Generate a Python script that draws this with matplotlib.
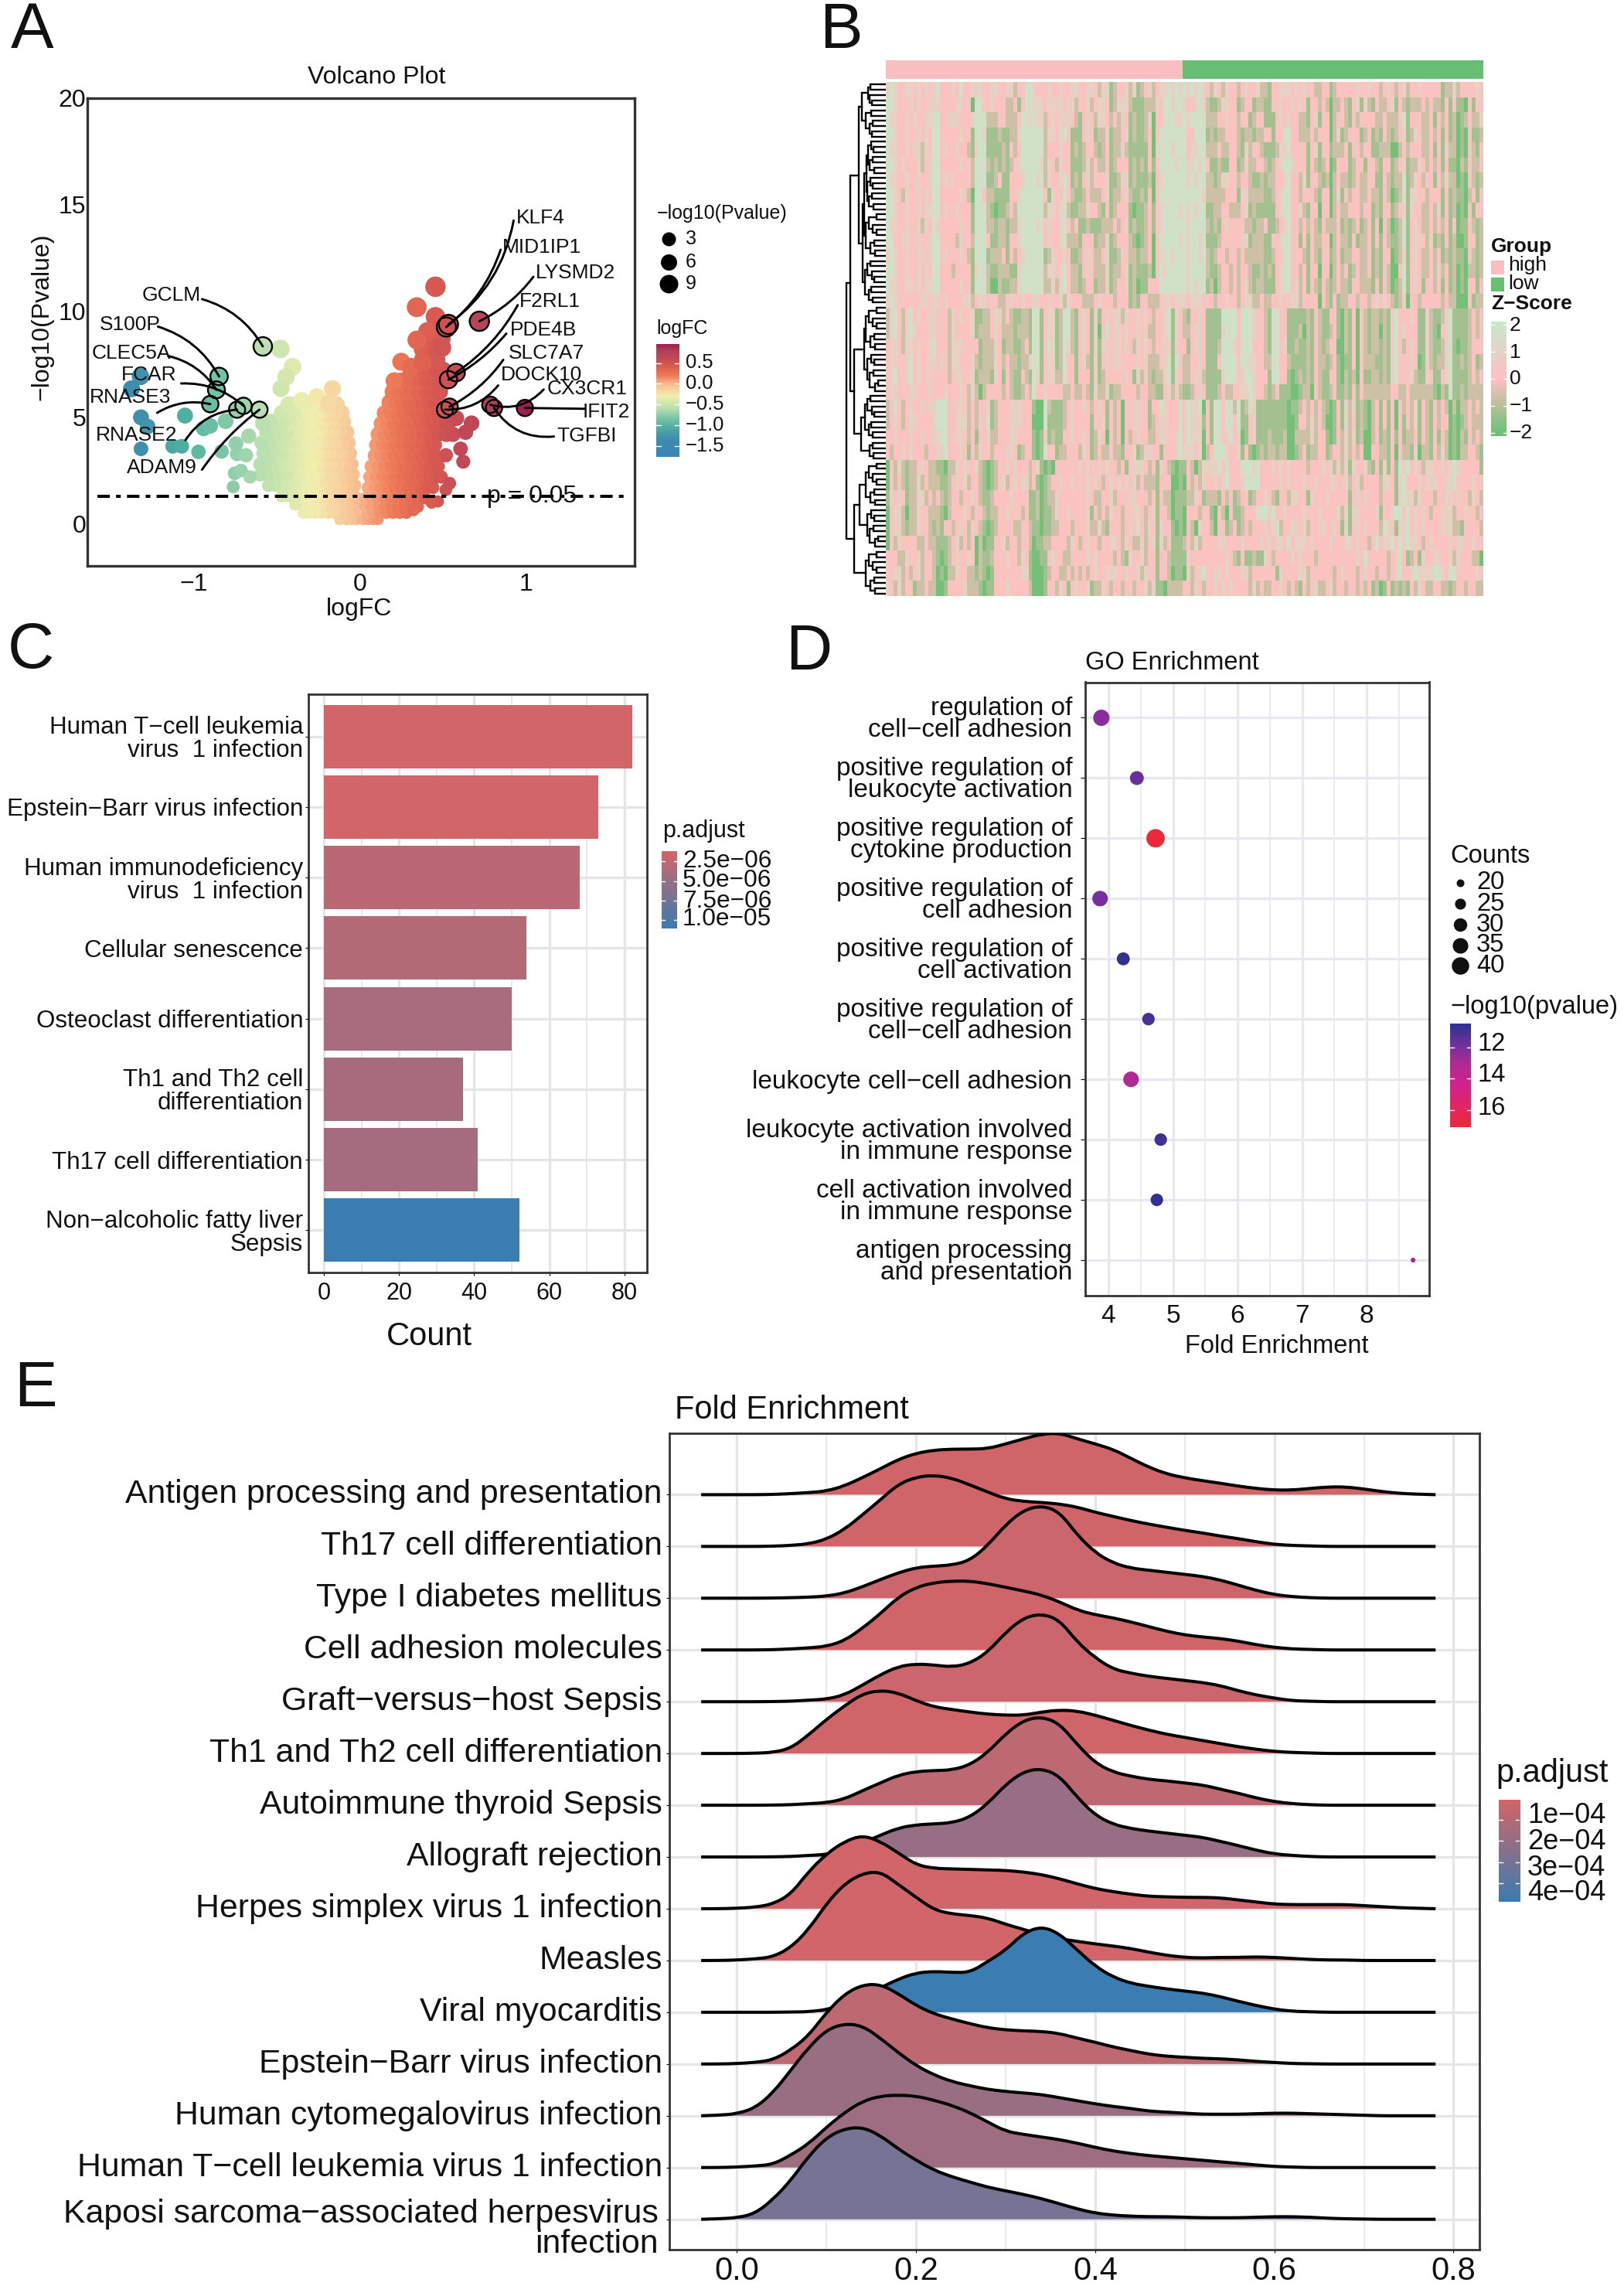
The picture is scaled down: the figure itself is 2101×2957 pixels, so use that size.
import numpy as np
import matplotlib
matplotlib.use("Agg")
import matplotlib.pyplot as plt
from matplotlib.colors import LinearSegmentedColormap, Normalize
from matplotlib.path import Path
from matplotlib.patches import PathPatch

plt.rcParams['font.family'] = ['Liberation Sans', 'DejaVu Sans']

W, H = 2101, 2957
fig = plt.figure(figsize=(W / 100, H / 100), dpi=100)

# ---------- panel A data ----------
vol_levels_right = [.2, .5, .8, 1.2, 1.7, 2.2, 2.7, 3.2, 3.7, 4.2, 4.7, 5.2, 5.7, 6.2, 6.7, 7.2, 7.7, 8.2, 8.7, 9.2]
vol_rows_right = [
    [.02, .05, .08, .11],
    [.04, .08, .12, .16, .2, .24, .28],
    [.03, .07, .11, .15, .19, .23, .27, .31, .35],
    [.03, .07, .11, .15, .19, .23, .27, .31, .35, .39],
    [.05, .09, .13, .17, .21, .25, .29, .33, .37, .41, .44],
    [.06, .1, .14, .18, .22, .26, .3, .34, .38, .42, .46, .49],
    [.07, .11, .15, .19, .23, .27, .31, .35, .39, .43, .47],
    [.09, .13, .17, .21, .25, .29, .33, .37, .41, .45],
    [.1, .14, .18, .22, .26, .3, .34, .38, .42, .45],
    [.11, .15, .19, .23, .27, .31, .35, .39, .43, .47, .52, .56],
    [.13, .17, .21, .25, .29, .33, .37, .41, .45, .49, .53],
    [.15, .19, .23, .27, .31, .35, .39, .43, .47, .51],
    [.18, .22, .26, .3, .34, .38, .42, .46],
    [.2, .24, .28, .32, .36, .4, .44, .48],
    [.25, .29, .33, .37, .41, .45, .49],
    [.31, .35, .39, .43, .47, .5],
    [.38, .42, .46],
    [.38, .42, .46],
    [.41, .45, .49],
    [.45],
]
vol_levels_left = [.2, .5, .9, 1.3, 1.8, 2.3, 2.8, 3.3, 3.8, 4.3, 4.8, 5.2, 5.6]
vol_rows_left = [
    [-.02, -.05, -.08, -.12],
    [-.03, -.07, -.11, -.15, -.19, -.23, -.27, -.31, -.34],
    [-.03, -.07, -.11, -.15, -.19, -.23, -.27, -.31, -.35, -.39],
    [-.03, -.07, -.11, -.15, -.19, -.23, -.27, -.31, -.35, -.39, -.43, -.47],
    [-.03, -.07, -.11, -.15, -.19, -.23, -.27, -.31, -.35, -.39, -.43, -.47, -.51, -.55],
    [-.04, -.08, -.12, -.16, -.2, -.24, -.28, -.32, -.36, -.4, -.44, -.48, -.52, -.56, -.6],
    [-.05, -.09, -.13, -.17, -.21, -.25, -.29, -.33, -.37, -.41, -.45, -.49, -.53, -.57, -.6],
    [-.06, -.1, -.14, -.18, -.22, -.26, -.3, -.34, -.38, -.42, -.46, -.5, -.54, -.58],
    [-.07, -.11, -.15, -.19, -.23, -.27, -.31, -.35, -.39, -.43, -.47, -.51, -.55, -.59],
    [-.08, -.12, -.16, -.2, -.24, -.28, -.32, -.36, -.4, -.44, -.48, -.52, -.56],
    [-.1, -.14, -.18, -.22, -.26, -.3, -.34, -.38, -.42, -.46, -.5, -.54],
    [-.11, -.15, -.19, -.23, -.27, -.31, -.35, -.39, -.43, -.47],
    [-.14, -.19, -.24, -.29, -.34, -.39, -.43],
]
# single points that stand apart from the main cloud
vol_extra_x = [-.478, -.405, -.444, -.475, -1.32, -1.374, -1.052, -1.317, -1.277, -1.317, -1.126, -1.072, -.971,
               -.94, -.90, -.808, -.584, -.669, -.746, -.832, -.739, -.685, -.754, -.715, -.661, -.762,
               -.165, -.258, -.351, -.188,
               .455, .342, .455, .408, .343, .494, .249, .207, .308, .378, .672, .636, .606, .622, .517,
               .54, .517, .47, .432, .323, .58]
vol_extra_y = [8.21, 7.37, 6.89, 6.35, 6.92, 6.34, 5.08, 5.0, 4.57, 3.52, 3.64, 3.64, 3.38,
               4.48, 4.6, 4.82, 4.72, 4.12, 3.76, 3.4, 3.28, 3.22, 2.37, 2.5, 2.2, 1.74,
               6.35, 5.98, 5.8, 5.69,
               11.13, 10.17, 9.72, 9.03, 8.63, 8.27, 7.61, 6.71, 7.37, 7.55, 4.72, 4.3, 3.52, 2.92, 3.22,
               1.9, 1.6, 1.05, .99, .63, 4.96]
genes = ['GCLM', 'S100P', 'CLEC5A', 'FCAR', 'RNASE3', 'RNASE2', 'ADAM9',
         'KLF4', 'MID1IP1', 'LYSMD2', 'F2RL1', 'PDE4B', 'SLC7A7', 'DOCK10', 'CX3CR1', 'IFIT2', 'TGFBI']
gene_x = [-.584, -.847, -.863, -.70, -.90, -.739, -.604, .533, .52, .719, .579, .533, .54, .512, .785, .993, .807]
gene_y = [8.33, 6.92, 6.29, 5.54, 5.62, 5.36, 5.36, 9.36, 9.24, 9.51, 7.1, 6.77, 5.5, 5.36, 5.59, 5.44, 5.44]
# where the connector starts, in data units, and where the name sits in pixels
line_x = [-.95, -1.215, -1.153, -1.075, -1.22, -1.05, -.95, .925, .847, 1.044, .95, .881, .863, .832, 1.106, 1.355, 1.168]
line_y = [10.55, 9.26, 7.88, 6.59, 5.21, 3.92, 2.54, 14.24, 12.87, 11.6, 10.27, 8.93, 7.7, 6.5, 6.31, 5.4, 4.1]
line_rad = [-.2, -.2, -.2, -.2, -.2, -.25, -.08, -.2, -.15, -.12, -.12, -.1, -.12, -.25, -.3, 0, -.3]
name_px = [184, 128.6, 118.6, 157, 116, 124, 164, 668, 650, 693, 672, 660, 658, 648, 708, 753.5, 720]
name_py = [381.6, 420, 456.6, 484.7, 513.8, 562.8, 604.6, 282, 320, 353, 390, 427.5, 456.6, 484.7, 502.5, 533, 564]
fc_values = [-1.77, -1.35, -1.05, -.85, -.6, -.45, -.3, -.15, 0, .2, .4, .6, .8, .96]
fc_colors = ['#3B84B8', '#3E8CAE', '#4FB09E', '#75C3A5', '#B8DFB0', '#D4E7AE', '#F2EFAE', '#F7D49F', '#F8B88F',
             '#EE7B57', '#DE5F50', '#C44A55', '#B0405A', '#9E1F50']

# ---------- panel B data: one digit per cell, 0 is the strongest green and 5 the palest ----------
heat_rows = [
    "4543344343 4345333435 3344433443 3442335543 3343343344 3344324412 3342412342 3445454545 4543243243 3234334221 3344434343 3223312333 3343343323 4323423343 3333122423 33343",
    "5543334343 3444333344 3305533433 3223135544 4344443442 3342344312 4442111222 4355455433 4542112443 3123312211 3343343431 3323202232 1341421322 3413212223 2322131311 03133",
    "5443343433 4455334443 3345552223 3222355454 4234344432 1343244323 2431211240 3355544545 5552223343 3233123311 1343433221 3413302332 1323333223 2223513332 2313231201 23224",
    "5543343343 4355333334 3315541112 1122455555 5244345311 1343122412 2341211230 3555555533 5551212233 3212212233 1335533222 3233302412 3331231213 2123412432 2323131201 03112",
    "5443343442 4355343343 3214551111 2132355555 5233343312 1233212312 2421111130 4555455534 4552223223 3214233211 1244533331 3413312223 1332331122 2002323332 2313142201 03213",
    "5543433342 3455333334 3325552121 2123455555 4243243311 1242322312 3331212131 3555545544 5453112113 3124223321 2345543331 3212301333 1233133213 3123412243 2323131102 13223",
    "5443343343 3455343433 3325551123 1133345554 5243345312 1342333411 2441211120 3455555545 4552212443 3233211212 2334533241 3321202322 1232233113 2122512432 3313242201 03212",
    "5543243343 4355333334 3205532211 1133455555 5314335321 1232223412 2342112130 3555555555 5542222233 3144222211 2345533233 3213302413 2332232213 2012514433 2333131211 02313",
    "5543343343 4455343343 3315552101 1232555555 5244345211 2243321312 3331011231 3455554545 4551122332 2234121111 1345533421 3303302322 3332331213 3123414332 2324131201 03133",
    "5443343342 4354333334 3315552212 2122455554 5343345323 1121112223 2341211231 3455555545 5552121343 3332212231 1234533232 3213222312 1231231303 2012513432 2323231301 13212",
    "5533443343 3455333324 3325553112 2133455555 5343345222 1333122412 3332101230 3555554545 5451112333 3344122211 3345533131 3223302322 1312231313 2112513443 2412131200 13312",
    "4543343344 3455343334 3215551222 3132345555 5124334311 2343223411 2432212230 3455455545 5452123323 3232222211 2335533321 3213312312 2332231213 3012413432 2323121211 03212",
    "5543343343 4355333233 3314552112 2211455555 5244345322 1343222412 2341211120 3545555545 5552112332 3233211212 1345533231 3303302323 1232231213 2003513432 2324231201 02212",
    "5443344343 4455333334 3315552002 1122455555 5224245322 1233122412 3341201133 3555555545 4551202332 3234212211 1345534231 3213212322 1332221313 2012513431 3323131201 03313",
    "4543333334 4344343333 4423443332 2343343344 3343342433 3222343332 3331213322 2344344434 4433323343 3234422322 3343344233 3303213122 3323323434 3212403323 3333232200 03122",
    "2453245343 3443332434 3341122344 2321122155 1344125521 3431413434 4243343432 3345143213 3431111555 5355543321 5533111112 1321133102 1303212212 1453334311 4211245111 12323",
    "2453245433 3443332433 3341222343 2221222155 1344125521 3431403534 4343343422 3345143223 4431111455 5355543321 5533111202 1321123102 1303212202 1453433311 4210345111 12323",
    "3443244343 3453332444 3333122243 1221123155 1354125421 3431414434 4343243432 3344143313 4431112555 4355533321 5534112112 1321233002 1303212212 1453234311 4211245101 12333",
    "3443345343 3443432443 3342122243 2322122455 1344125331 3421413434 4333343422 2345153223 3431113555 5355443322 5533211112 1322123101 1303222112 1453334301 4212245112 12312",
    "3453345343 3433332344 3341222143 1321132154 1344225331 3331412333 3343142421 2245143223 4421111455 5345543331 5533101212 1321133102 1203112212 1453334211 4311345111 12323",
    "3443334433 3433343334 3242023333 2321123253 3433332232 2321422412 2333323322 1134242112 3431112322 3344543321 2311100122 0321123112 1313222222 2332232222 2210215112 12222",
    "2353234334 3445553344 3232334123 3344433310 0521112343 3432343132 3033443313 3543335354 4503155355 2512541111 1111011232 3232101314 2412102313 1303232413 2132320202 23232",
    "2343234433 3345553344 4232435123 3344433300 0511112343 3331334132 3033443312 3443335354 4413155355 3511341111 1111001332 4232001314 2312102313 1303132413 2132330101 23222",
    "3343334334 3344553344 3231334223 3344333310 1412113343 3431243032 3032343322 3443345354 4403155345 3401341112 1112002222 4233101324 2412002312 1313122313 2131320102 13232",
    "3233434333 2334453334 3132433233 3443123310 1533122333 2431232232 2133412443 3133345444 3402355543 3413101212 2122001231 2233123324 2323003322 1303221402 2132420102 23321",
    "0324212234 3221102243 4334210123 3434333234 1010333333 4343343433 2313444323 1432101132 0244445353 3355545333 4343433332 3334342424 1433421314 1315453432 4433434543 33331",
    "0323212242 3222112343 4233210123 4234344231 0123343343 3343432343 4343423222 1333001032 3243343453 3345555333 3343433343 3433344334 2342333324 4314533343 4443344533 33433",
    "1434312244 2323212332 3343211233 3343333112 0122433333 3343223342 3334433323 1322011122 4312221323 1233123343 2133244331 4333433333 1343433323 3314544243 3323344343 32432",
    "0344202243 3222102333 4323321223 3433323112 0112433433 3341323243 3233443234 1332011033 3233103203 1123335554 5334333343 3343333424 1443333413 3455353434 3233444233 43323",
    "0344212243 3212133234 3243210123 3332233211 0112233323 3342242133 3234353243 1433101032 0433203312 3123233343 4523344342 3344334314 1343433325 4314453434 3333444221 33332",
    "0324333322 3221112342 3230201133 4233233201 1223333243 2343323344 3243224234 1423111232 4233334433 3343333434 3443534443 4333343334 4343323534 4535454432 3433334344 33433",
    "3332243342 3321012343 3430211233 3433243100 1134332233 3343433332 3214334233 1332111143 3333333343 2131121143 2333343433 3233333333 3343533333 2345312314 3344334243 33220",
    "3344232342 3320102243 3221210133 3333344100 0123322323 2323433444 3343342433 1332011042 3453344343 3344233333 3143333442 3333332343 3323433233 2345334544 4455435533 33343",
    "4324233122 3220013333 4222101133 3433333200 0133243134 3341224323 3233233424 1102222332 4323343434 3333242322 3343232132 3422342332 3323231201 3121213243 2233221233 23322",
]
digit_scores = [-1.9, -1.25, -0.7, 0.15, 0.9, 1.7]
group_sizes = [77, 78]

# cluster tree of the heatmap rows: [merge height, branch, branch], 0 is a leaf
den_top = [30, [22, [19, 0, 0], [20, 0, [17, 0, 0]]], [25, [18, 0, 0], [20, [16, 0, 0], [17, 0, 0]]]]
den_g1 = [24, [22, [18, 0, [15, 0, 0]], [20, [16, 0, 0], [14, 0, 0]]], [23, [19, 0, [16, 0, 0]], [21, [17, 0, 0], [15, 0, 0]]]]
den_g2 = [26, [23, [19, 0, 0], [17, 0, [14, 0, 0]]], [21, [18, 0, 0], [16, 0, 0]]]
den_g3 = [25, [21, [12, 0, 0], [16, 0, [12, 0, 0]]], [19, [14, 0, 0], [13, 0, 0]]]
den_g4 = [23, [18, 0, [14, 0, 0]], [20, [15, 0, 0], [13, [10, 0, 0], 0]]]
den_b1 = [34, den_top, [29, [27, den_g1, den_g3], den_g2]]
den_b2 = [27, den_g3, den_g4]
den_b3 = [31, den_g2, [20, [16, 0, 0], [15, 0, 0]]]
den_b4 = [39, [33, den_g3, den_g4], den_g3]
den_root = [49, [44, den_b1, [39, den_b2, den_b3]], den_b4]

# ---------- panel C data ----------
path_names = ['Human T\u2212cell leukemia\nvirus  1 infection', 'Epstein\u2212Barr virus infection',
              'Human immunodeficiency\nvirus  1 infection', 'Cellular senescence', 'Osteoclast differentiation',
              'Th1 and Th2 cell\ndifferentiation', 'Th17 cell differentiation', 'Non\u2212alcoholic fatty liver\nSepsis']
path_counts = [82, 73, 68, 54, 50, 37, 41, 52]
path_padj = [1.2e-6, 1.3e-6, 2.8e-6, 3.2e-6, 4.0e-6, 4.1e-6, 4.2e-6, 1.1e-5]

# ---------- panel D data ----------
go_names = ['regulation of\ncell\u2212cell adhesion', 'positive regulation of\nleukocyte activation',
            'positive regulation of\ncytokine production', 'positive regulation of\ncell adhesion',
            'positive regulation of\ncell activation', 'positive regulation of\ncell\u2212cell adhesion',
            'leukocyte cell\u2212cell adhesion', 'leukocyte activation involved\nin immune response',
            'cell activation involved\nin immune response', 'antigen processing\nand presentation']
go_fold = [3.89, 4.44, 4.73, 3.87, 4.23, 4.62, 4.35, 4.81, 4.75, 8.72]
go_counts = [37, 31, 43, 35, 29, 28, 35, 28, 28, 17]
go_logp = [12.3, 11.7, 17.0, 12.0, 10.6, 11.0, 13.0, 10.8, 10.6, 12.8]

# ---------- panel E data ----------
ridge_names = ['Antigen processing and presentation', 'Th17 cell differentiation', 'Type I diabetes mellitus',
               'Cell adhesion molecules', 'Graft\u2212versus\u2212host Sepsis', 'Th1 and Th2 cell differentiation',
               'Autoimmune thyroid Sepsis', 'Allograft rejection', 'Herpes simplex virus 1 infection', 'Measles',
               'Viral myocarditis', 'Epstein\u2212Barr virus infection', 'Human cytomegalovirus infection',
               'Human T\u2212cell leukemia virus 1 infection', 'Kaposi sarcoma\u2212associated herpesvirus\ninfection']
ridge_padj = [.06e-4, .06e-4, .25e-4, .06e-4, .25e-4, .06e-4, .65e-4, 1.9e-4, .05e-4, .05e-4, 4.88e-4, .65e-4, 1.85e-4, 1.65e-4, 3.0e-4]
# curve height read every 0.02 starting at -0.04, in rows; what is missing at the end is zero
ridge_x = np.arange(-4, 79, 2) / 100
ridge_h = [
    [0, 0, 0, 0, .005, .02, .04, .07, .17, .33, .50, .68, .80, .86, .88, .88, .89, .98, 1.08, 1.17, 1.19, 1.08, .98, .875, .70, .53, .40, .325, .27, .22, .165, .12, .09, .09, .12, .15, .15, .11, .06, .025, .01],
    [0, 0, 0, 0, .005, .02, .05, .14, .33, .61, .90, 1.2, 1.34, 1.376, 1.32, 1.19, 1.05, .92, .87, .85, .82, .76, .66, .58, .50, .43, .37, .31, .26, .20, .15, .09, .04, .02, .01],
    [0, 0, 0, 0, .003, .01, .02, .04, .10, .22, .36, .49, .59, .62, .64, .73, 1.02, 1.42, 1.70, 1.79, 1.67, 1.22, .88, .68, .58, .54, .50, .46, .42, .35, .25, .15, .07, .03, .01],
    [0, 0, 0, 0, .005, .02, .04, .07, .18, .42, .70, 1.02, 1.21, 1.30, 1.33, 1.33, 1.28, 1.21, 1.14, 1.06, .93, .77, .68, .62, .54, .45, .36, .29, .25, .22, .17, .10, .05, .02, .01],
    [0, 0, 0, 0, .003, .01, .03, .05, .13, .32, .52, .68, .73, .71, .67, .74, .96, 1.34, 1.62, 1.70, 1.58, 1.15, .85, .63, .55, .49, .45, .41, .37, .31, .21, .13, .07, .02, .01],
    [0, 0, 0, .005, .02, .10, .36, .66, .92, 1.15, 1.22, 1.17, 1.02, .90, .85, .80, .76, .74, .74, .80, .84, .82, .74, .64, .54, .45, .37, .31, .25, .19, .13, .08, .04, .02, .01],
    [0, 0, 0, 0, .003, .01, .03, .05, .12, .28, .43, .58, .65, .67, .68, .78, 1.02, 1.38, 1.64, 1.71, 1.58, 1.17, .82, .64, .56, .50, .47, .43, .39, .31, .23, .14, .07, .03, .01],
    [0, 0, 0, 0, .003, .01, .03, .05, .11, .27, .42, .56, .62, .64, .66, .77, 1.03, 1.40, 1.65, 1.71, 1.57, 1.15, .81, .63, .55, .50, .46, .42, .38, .30, .22, .13, .06, .03, .01],
    [0, 0, .01, .03, .09, .28, .72, 1.06, 1.30, 1.42, 1.30, 1.08, .85, .78, .77, .76, .75, .74, .71, .66, .58, .48, .39, .33, .28, .24, .23, .22, .22, .21, .17, .13, .09, .08, .08, .08, .08, .06, .04, .02, .01],
    [0, 0, .01, .03, .07, .25, .60, 1.10, 1.48, 1.68, 1.72, 1.47, 1.22, .98, .90, .87, .82, .70, .60, .50, .42, .37, .32, .28, .23, .16, .10, .06, .05, .06, .06, .07, .06, .04, .02, .01, .01],
    [0, 0, 0, 0, 0, .005, .01, .05, .15, .30, .47, .64, .76, .79, .77, .77, .98, 1.20, 1.53, 1.66, 1.52, 1.20, .89, .68, .56, .50, .45, .41, .37, .30, .21, .13, .06, .02, .01],
    [0, 0, .01, .03, .08, .27, .55, 1.0, 1.35, 1.53, 1.54, 1.36, 1.13, .97, .87, .78, .70, .66, .64, .63, .59, .50, .42, .33, .26, .19, .15, .13, .11, .10, .08, .05, .03, .01, .005],
    [0, .01, .04, .15, .44, .88, 1.32, 1.66, 1.78, 1.74, 1.50, 1.22, .97, .79, .66, .58, .51, .47, .44, .41, .35, .29, .23, .18, .14, .09, .07, .05, .03, .03, .03, .04, .05, .05, .04, .03, .02, .01],
    [0, 0, .01, .03, .06, .24, .46, .78, 1.06, 1.28, 1.38, 1.40, 1.38, 1.30, 1.20, 1.06, .88, .70, .64, .59, .54, .47, .39, .32, .27, .23, .20, .17, .14, .11, .08, .05, .02, .01],
    [0, .01, .03, .11, .38, .75, 1.22, 1.58, 1.75, 1.78, 1.62, 1.36, 1.14, .95, .82, .72, .62, .55, .48, .40, .30, .20, .12, .08, .06, .05, .05, .04, .03, .03, .03, .04, .05, .05, .04, .02, .01, .005],
]


def px_ax(left, top, right, bottom):
    # axes placed by pixel box of the picture
    return fig.add_axes([left / W, 1 - bottom / H, (right - left) / W, (bottom - top) / H])


def ptext(x, y, s, **kw):
    kw.setdefault('va', 'center')
    kw.setdefault('color', '#111111')
    return fig.text(x / W, 1 - y / H, s, **kw)


def draw_bar(box, cmap, vtop, vbot, ticks):
    # vertical colour bar with short white dashes at the ticks
    cax = px_ax(*box)
    grad = np.linspace(vtop, vbot, 256).reshape(-1, 1)
    cax.imshow(grad, cmap=cmap, vmin=min(vtop, vbot), vmax=max(vtop, vbot), aspect='auto', extent=[0, 1, vbot, vtop])
    for t in ticks:
        cax.plot([0, .2], [t, t], color='white', lw=1)
        cax.plot([.8, 1], [t, t], color='white', lw=1)
    cax.set_xlim(0, 1)
    cax.set_ylim(vbot, vtop)
    cax.axis('off')


def style_axes(ax, lw=2.0):
    for sp in ax.spines.values():
        sp.set_linewidth(lw)
        sp.set_color('#333333')


def walk_tree(ax, node, counter):
    # returns (height, y) of a node and draws the branches below it
    if node == 0:
        counter[0] += 1
        return 0, counter[0] - .5
    h, a, b = node
    ha, ya = walk_tree(ax, a, counter)
    hb, yb = walk_tree(ax, b, counter)
    ax.plot([ha, h, h, hb], [ya, ya, yb, yb], color='black', lw=1.7, solid_joinstyle='miter')
    return h, (ya + yb) / 2


def curve_path(xs, ys):
    # the read points act as control points of quadratic curves, so the ridge stays round
    verts = [(xs[0], ys[0])]
    codes = [Path.MOVETO]
    for k in range(1, len(xs) - 1):
        verts.append((xs[k], ys[k]))
        codes.append(Path.CURVE3)
        verts.append(((xs[k] + xs[k + 1]) / 2, (ys[k] + ys[k + 1]) / 2))
        codes.append(Path.CURVE3)
    verts.append((xs[-1], ys[-1]))
    codes.append(Path.LINETO)
    return verts, codes


# panel letters
for letter, lx, ly in [('A', 14, 40), ('B', 1060, 40), ('C', 10, 842), ('D', 1016, 844), ('E', 18, 1797)]:
    ptext(lx, ly, letter, fontsize=60, ha='left')

# ---------- A: volcano ----------
ax_a = px_ax(112.5, 126.5, 821, 731.6)
fc_norm = Normalize(fc_values[0], fc_values[-1])
fc_cmap = LinearSegmentedColormap.from_list('fc', [(fc_norm(v), c) for v, c in zip(fc_values, fc_colors)])

vx, vy = [], []
for lev, row in zip(vol_levels_left + vol_levels_right, vol_rows_left + vol_rows_right):
    vx += row
    vy += [lev] * len(row)
vx = np.array(vx + vol_extra_x + gene_x)
vy = np.array(vy + vol_extra_y + gene_y)
dot_px = np.sqrt(200 + 45 * vy)
ax_a.scatter(vx, vy, s=(dot_px * .72) ** 2, c=vx, cmap=fc_cmap, norm=fc_norm, linewidths=0, zorder=2)

gx, gy = np.array(gene_x), np.array(gene_y)
ax_a.scatter(gx, gy, s=(np.sqrt(200 + 45 * gy) * .72) ** 2, facecolors='none', edgecolors='black', linewidths=1.7, zorder=3)
for i, name in enumerate(genes):
    ax_a.annotate('', xy=(gene_x[i], gene_y[i]), xytext=(line_x[i], line_y[i]), zorder=4,
                  arrowprops=dict(arrowstyle='-', lw=2.1, color='black', shrinkA=0, shrinkB=0,
                                  connectionstyle='arc3,rad=%s' % line_rad[i]))
    ptext(name_px[i], name_py[i], name, fontsize=19, ha='left', zorder=5)

ax_a.plot([-1.58, 1.6], [1.3, 1.3], color='black', lw=2.9, dashes=(4, 2, 1.5, 2), zorder=4)
ax_a.text(1.035, 1.3, 'p = 0.05', fontsize=23, ha='center', va='center', color='#111111', zorder=5)
ax_a.set_xlim(-1.642, 1.653)
ax_a.set_ylim(-1.96, 20)
ax_a.set_xticks([-1, 0, 1])
ax_a.set_yticks([0, 5, 10, 15, 20])
ax_a.tick_params(length=0, labelsize=23, pad=7, labelcolor='#111111')
ax_a.tick_params(axis='y', pad=1)
style_axes(ax_a, 2.4)
ptext(465, 788, 'logFC', fontsize=23, ha='center')
ptext(54, 410, '\u2212log10(Pvalue)', fontsize=23, ha='center', rotation=90)
ptext(487, 100, 'Volcano Plot', fontsize=23, ha='center')

ptext(850, 276, '\u2212log10(Pvalue)', fontsize=18, ha='left')
leg_a = fig.add_axes([0, 0, 1, 1], facecolor='none')
leg_a.set_xlim(0, W)
leg_a.set_ylim(H, 0)
leg_a.axis('off')
for val, yy, dd in zip(['3', '6', '9'], [309, 339, 367], [18, 21, 24]):
    leg_a.scatter([865], [yy], s=(dd * .72) ** 2, color='black', linewidths=0)
    ptext(887, yy, val, fontsize=18, ha='left')
ptext(849, 425, 'logFC', fontsize=18, ha='left')
draw_bar((849, 445, 879, 591), fc_cmap, .96, -1.77, [.5, 0, -.5, -1, -1.5])
for val, yy in zip(['0.5', '0.0', '\u22120.5', '\u22121.0', '\u22121.5'], [469, 496, 523, 550, 576.5]):
    ptext(887, yy, val, fontsize=18.4, ha='left')

# ---------- B: heatmap ----------
heat_cmap = LinearSegmentedColormap.from_list('hm', ['#66C072', '#FFC0C0', '#C7E9C9'])
n_col = max(len(r.replace(' ', '')) for r in heat_rows)
heat = np.array([[digit_scores[int(c)] for c in r.replace(' ', '').ljust(n_col, '3')] for r in heat_rows])
ax_b = px_ax(1146, 106, 1919, 771)
ax_b.imshow(heat, cmap=heat_cmap, vmin=-2.1, vmax=2.1, aspect='auto', interpolation='nearest')
ax_b.axis('off')

ann = px_ax(1146, 78, 1919, 102)
ann.barh([0], [group_sizes[0]], left=[0], height=1, color='#F9BFC0')
ann.barh([0], [group_sizes[1]], left=[group_sizes[0]], height=1, color='#66BF73')
ann.set_xlim(0, sum(group_sizes))
ann.set_ylim(-.5, .5)
ann.axis('off')

den = px_ax(1093, 106, 1146, 771)
leaf_counter = [0]
walk_tree(den, den_root, leaf_counter)
den.set_xlim(51, 0)
den.set_ylim(leaf_counter[0], 0)
den.axis('off')

ptext(1929, 319, 'Group', fontsize=19, fontweight='bold', ha='left')
leg_a.add_patch(plt.Rectangle((1929, 337), 17, 18, color='#F9BFC0', lw=0))
leg_a.add_patch(plt.Rectangle((1929, 359), 17, 18, color='#66BF73', lw=0))
ptext(1951.5, 343, 'high', fontsize=19, ha='left')
ptext(1951.5, 367, 'low', fontsize=19, ha='left')
ptext(1929, 393, 'Z\u2212Score', fontsize=19, fontweight='bold', ha='left')
draw_bar((1929, 416, 1949, 564), heat_cmap, 2.1, -2.1, [2, 1, 0, -1, -2])
for val, yy in zip(['2', '1', '0', '\u22121', '\u22122'], [421, 455.6, 490, 525.5, 560]):
    ptext(1953, yy, val, fontsize=19, ha='left')

# ---------- C: bars ----------
red_blue = LinearSegmentedColormap.from_list('rb', ['#D26568', '#3B7DB0'])
ax_c = px_ax(399, 898, 836.6, 1646)
ypos = np.arange(1, len(path_names) + 1)
c_norm = Normalize(1.2e-6, 1.1e-5)
ax_c.set_axisbelow(True)
ax_c.barh(ypos, path_counts, height=.9, color=red_blue(c_norm(path_padj)), zorder=3)
ax_c.set_xlim(-4.1, 85.9)
ax_c.set_ylim(8.6, .4)
ax_c.set_xticks([0, 20, 40, 60, 80])
ax_c.set_xticks([10, 30, 50, 70], minor=True)
ax_c.set_yticks(ypos)
ax_c.set_yticklabels(path_names, ha='right', linespacing=1.0)
ax_c.grid(which='major', color='#E5E5E5', lw=2.4)
ax_c.grid(which='minor', axis='x', color='#E5E5E5', lw=1.2)
ax_c.tick_params(which='minor', length=0)
ax_c.tick_params(axis='x', length=3, labelsize=22, pad=6, labelcolor='#111111')
ax_c.tick_params(axis='y', length=3, labelsize=22.6, pad=2, labelcolor='#111111')
style_axes(ax_c, 2.0)
ptext(555, 1729, 'Count', fontsize=30, ha='center')
ptext(857, 1075, 'p.adjust', fontsize=22, ha='left')
draw_bar((856, 1101, 876, 1200.6), red_blue, 1.2e-6, 1.1e-5, [2.5e-6, 5e-6, 7.5e-6, 1e-5])
for val, yy in zip(['2.5e\u221206', '5.0e\u221206', '7.5e\u221206', '1.0e\u221205'], [1114, 1139, 1166, 1189]):
    ptext(883, yy, val, fontsize=22.8, ha='left')

# ---------- D: dots ----------
go_cmap_values = [10.46, 12.0, 13.0, 14.5, 17.1]
go_colors = ['#2E3192', '#7A309C', '#B02A94', '#D4228B', '#ED2939']
go_norm = Normalize(10.46, 17.1)
go_cmap = LinearSegmentedColormap.from_list('go', [(go_norm(v), c) for v, c in zip(go_cmap_values, go_colors)])


def count_to_px(c):
    return np.sqrt(100 + 20.3 * (np.array(c, dtype=float) - 20))


ax_d = px_ax(1403.8, 882.5, 1849, 1676)
ypos_d = np.arange(1, len(go_names) + 1)
ax_d.set_axisbelow(True)
ax_d.scatter(go_fold, ypos_d, s=(count_to_px(go_counts) * .72) ** 2, c=go_logp, cmap=go_cmap, norm=go_norm, linewidths=0, zorder=3)
ax_d.set_xlim(3.638, 8.97)
ax_d.set_ylim(10.59, .41)
ax_d.set_xticks([4, 5, 6, 7, 8])
ax_d.set_xticks([4.5, 5.5, 6.5, 7.5, 8.5], minor=True)
ax_d.set_yticks(ypos_d)
ax_d.set_yticklabels(go_names, ha='right', linespacing=.88)
ax_d.grid(which='major', color='#E8E8EE', lw=2.4)
ax_d.grid(which='minor', axis='x', color='#E8E8EE', lw=1.2)
ax_d.tick_params(which='minor', length=0)
ax_d.tick_params(axis='x', length=0, labelsize=24, pad=8, labelcolor='#111111')
ax_d.tick_params(axis='y', length=4, labelsize=24, pad=8, labelcolor='#111111')
style_axes(ax_d, 2.0)
ptext(1652, 1741, 'Fold Enrichment', fontsize=23.5, ha='center')
ptext(1404, 857, 'GO Enrichment', fontsize=23.5, ha='left')

ptext(1876, 1107, 'Counts', fontsize=23.5, ha='left')
for val, yy in zip([20, 25, 30, 35, 40], [1142, 1169, 1196, 1222.5, 1249]):
    leg_a.scatter([1889], [yy], s=(count_to_px(val) * .72) ** 2, color='#111111', linewidths=0)
    ptext(1910, yy, str(val), fontsize=23.5, ha='left')
ptext(1876, 1302, '\u2212log10(pvalue)', fontsize=23.5, ha='left')
draw_bar((1876, 1324, 1903, 1458), go_cmap, 10.46, 17.1, [12, 14, 16])
for val, yy in zip(['12', '14', '16'], [1350, 1390.6, 1434]):
    ptext(1911.5, yy, val, fontsize=23.5, ha='left')

# ---------- E: ridges ----------
ax_e = px_ax(866, 1854, 1914, 2910)
n_ridge = len(ridge_names)
ax_e.set_xlim(-.0755, .829)
ax_e.set_ylim(.413, 16.186)
ax_e.set_xticks([0, .2, .4, .6, .8])
ax_e.set_xticklabels(['0.0', '0.2', '0.4', '0.6', '0.8'])
ax_e.set_xticks([.1, .3, .5, .7], minor=True)
ax_e.set_yticks(np.arange(1, n_ridge + 1))
ax_e.set_yticklabels([])
ax_e.set_axisbelow(True)
ax_e.grid(which='major', color='#E5E5E5', lw=2.4)
ax_e.grid(which='minor', axis='x', color='#E5E5E5', lw=1.2)
ax_e.tick_params(which='minor', length=0)
ax_e.tick_params(axis='x', length=3, labelsize=30, pad=3, labelcolor='#111111')
ax_e.tick_params(axis='y', length=3)
e_norm = Normalize(0, 4.88e-4)
for i, name in enumerate(ridge_names):
    base = n_ridge - i
    h = np.zeros(len(ridge_x))
    h[:len(ridge_h[i])] = ridge_h[i]
    verts, codes = curve_path(ridge_x, base + h)
    fill_path = Path(verts + [(ridge_x[-1], base), (ridge_x[0], base), verts[0]],
                     codes + [Path.LINETO, Path.LINETO, Path.CLOSEPOLY])
    ax_e.add_patch(PathPatch(fill_path, facecolor=red_blue(e_norm(ridge_padj[i])), edgecolor='none', lw=0, zorder=3 + i))
    ax_e.add_patch(PathPatch(Path(verts, codes), facecolor='none', edgecolor='black', lw=2.9, zorder=3 + i,
                             joinstyle='round', capstyle='butt'))
    two_lines = '\n' in name
    ax_e.text(-.0875 if two_lines else -.0835, base - .19 if two_lines else base, name, fontsize=30.8,
              ha='right', va='center', color='#111111', linespacing=.98, clip_on=False)
style_axes(ax_e, 2.0)
ptext(873, 1824, 'Fold Enrichment', fontsize=30, ha='left')
ptext(1935, 2294, 'p.adjust', fontsize=30, ha='left')
draw_bar((1939, 2328, 1966, 2460), red_blue, .05e-4, 4.88e-4, [1e-4, 2e-4, 3e-4, 4e-4])
for val, yy in zip(['1e\u221204', '2e\u221204', '3e\u221204', '4e\u221204'], [2348, 2382, 2416, 2448]):
    ptext(1976, yy, val, fontsize=26, ha='left')

fig.savefig('out.png', dpi=100, facecolor='white')
